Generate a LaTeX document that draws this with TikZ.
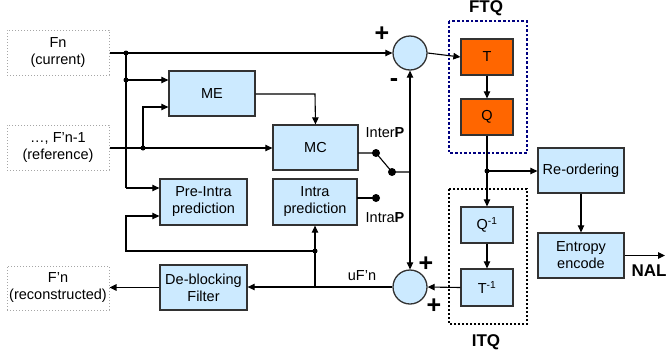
\documentclass[tikz,border=0pt]{standalone}
\usepackage{fontspec}
\setmainfont{Liberation Sans}
\usetikzlibrary{arrows.meta,calc}
\definecolor{lblue}{RGB}{204,234,255}
\definecolor{dorange}{RGB}{255,102,0}
\definecolor{bord}{RGB}{50,50,50}
\definecolor{navyd}{RGB}{0,0,128}
\begin{document}
\begin{tikzpicture}[x=1pt,y=-1pt,
  font=\fontsize{14.5}{17}\selectfont,
  arr/.style={-{Triangle[length=7pt,width=6.5pt]},line width=1.1pt},
  ln/.style={line width=1.1pt},
  bbox/.style={draw=bord,line width=1.3pt,fill=lblue,align=center,inner sep=0pt},
  obox/.style={draw=bord,line width=1.3pt,fill=dorange,align=center,inner sep=0pt,minimum width=52pt,minimum height=36pt},
  qbox/.style={draw=bord,line width=1.3pt,fill=lblue,align=center,inner sep=0pt,minimum width=52pt,minimum height=36pt},
  iobox/.style={draw=gray!70,dotted,line width=1pt,align=center,inner sep=0pt,minimum width=102pt,minimum height=45pt},
  sumc/.style={circle,draw=bord,line width=1.3pt,fill=lblue,minimum size=34pt,inner sep=0pt},
  dotc/.style={circle,fill=black,inner sep=0pt,minimum size=5pt},
  sdot/.style={circle,fill=black,inner sep=0pt,minimum size=8pt},
  sign/.style={font=\fontsize{25}{25}\selectfont\bfseries,inner sep=0pt},
  lbl/.style={font=\fontsize{17}{19}\selectfont\bfseries,inner sep=0pt}]
\useasboundingbox (0,0) rectangle (666,354);
% input/output boxes
\node[iobox] (fn) at (58,52.5) {Fn\\(current)};
\node[iobox] (ref) at (58,147.5) {\ldots, F’n-1\\(reference)};
\node[iobox,minimum height=44pt] (rec) at (58,288) {F’n\\(reconstructed)};
% processing boxes
\node[bbox,minimum width=86pt,minimum height=45pt] (me) at (212,93.5) {ME};
\node[bbox,minimum width=85pt,minimum height=45pt] (mc) at (315.5,147.5) {MC};
\node[bbox,minimum width=87pt,minimum height=46pt] (pre) at (203.5,202) {Pre-Intra\\prediction};
\node[bbox,minimum width=84pt,minimum height=46pt] (intra) at (315,202) {Intra\\prediction};
\node[bbox,minimum width=87pt,minimum height=45pt] (deb) at (203.5,287.5) {De-blocking\\Filter};
\node[sumc] (s1) at (410,53) {};
\node[sumc] (s2) at (410,287) {};
% FTQ / ITQ
\draw[navyd,dotted,line width=2.6pt] (449,21) rectangle (527,153);
\draw[black,dotted,line width=2pt] (449,189) rectangle (527,324);
\node[obox] (t) at (487,57) {T};
\node[obox] (q) at (487,117) {Q};
\node[qbox] (qi) at (487,225) {Q\textsuperscript{-1}};
\node[qbox,minimum height=37pt] (ti) at (487,287.5) {T\textsuperscript{-1}};
\node[bbox,minimum width=86pt,minimum height=45pt] (reo) at (581,170.5) {Re-ordering};
\node[bbox,minimum width=86pt,minimum height=45pt] (ent) at (581,255.5) {Entropy\\encode};
\node[lbl] (ftq) at (486,8) {FTQ};
\node[lbl] (itq) at (486,342) {ITQ};
\node[lbl] (nal) at (649,271) {NAL};
% labels
\node[sign] (p1) at (382,34) {+};
\node[sign] (m1) at (394,83) {-};
\node[sign] (p2) at (426,264) {+};
\node[sign] (p3) at (434,306) {+};
\node[inner sep=0pt] (inter) at (385,133) {Inter\textbf{P}};
\node[inner sep=0pt] (intral) at (385,218) {Intra\textbf{P}};
\node[inner sep=0pt] (ufn) at (362,276) {uF’n};
% junction coordinates
\coordinate (j1) at (126,53);
\coordinate (j2) at (126,80);
\coordinate (jp) at (126,188);
\coordinate (j3) at (143,148);
\coordinate (j3b) at (143,107);
\coordinate (mex) at (315,94);
\coordinate (mco) at (358,153);
\coordinate (sw1) at (376,153);
\coordinate (sw2) at (392,172);
\coordinate (swo) at (410,172);
\coordinate (sw3) at (376,198);
\coordinate (ino) at (357,198);
\coordinate (j4) at (487,171);
\coordinate (j5) at (315,287);
\coordinate (j6) at (315,251);
\coordinate (j7) at (126,251);
\coordinate (j8) at (126,216);
\coordinate (nalo) at (665,255.5);
% connectors
\draw[arr] (fn.east |- j1) -- (s1.west);
\draw[ln] (j1) -- (jp);
\draw[arr] (jp) -- (pre.west |- jp);
\draw[arr] (j2) -- (me.west |- j2);
\draw[arr] (ref.east |- j3) -- (mc.west |- j3);
\draw[arr] (j3) -- (j3b) -- (me.west |- j3b);
\draw[arr] (me.east |- mex) -- (mex) -- (mc.north);
\draw[ln] (mco) -- (sw1) -- (sw2) -- (swo);
\draw[ln] (ino) -- (sw3);
\draw[arr] (swo) -- (s1.south);
\draw[arr] (swo) -- (s2.north);
\draw[arr] (s1.east) -- (t.west);
\draw[arr] (t.south) -- (q.north);
\draw[arr] (q.south) -- (qi.north);
\draw[arr] (j4) -- (reo.west |- j4);
\draw[arr] (reo.south) -- (ent.north);
\draw[arr] (ent.east) -- (nalo);
\draw[arr] (qi.south) -- (ti.north);
\draw[arr] (ti.west) -- (s2.east);
\draw[arr] (s2.west) -- (deb.east |- s2.west);
\draw[arr] (deb.west) -- (rec.east |- deb.west);
\draw[ln] (j5) -- (j6);
\draw[arr] (j6) -- (intra.south);
\draw[arr] (j6) -- (j7) -- (j8) -- (pre.west |- j8);
% dots
\node[dotc] at (j1) {};
\node[dotc] at (j2) {};
\node[dotc] at (j3) {};
\node[dotc] at (j4) {};
\node[dotc] at (j6) {};
\node[sdot] at (sw1) {};
\node[sdot] at (sw2) {};
\node[sdot] at (sw3) {};
\end{tikzpicture}
\end{document}
